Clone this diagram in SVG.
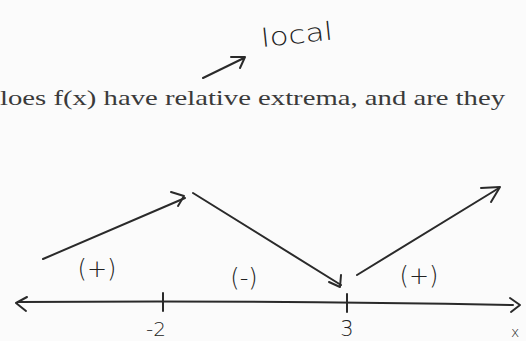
<svg xmlns="http://www.w3.org/2000/svg" width="526" height="341" viewBox="0 0 526 341">
<style>
.ln{stroke:#2a2a2a;stroke-width:2;fill:none;stroke-linecap:round;stroke-linejoin:round}
.hw{font-family:"DejaVu Sans",sans-serif;fill:#222;font-weight:300}
.pr{font-family:"Liberation Serif",serif;fill:#3a3a3a}
</style>
<rect width="526" height="341" fill="#fbfbfb"/>
<g id="question">
<text class="pr" x="0" y="105" font-size="21" textLength="505" lengthAdjust="spacingAndGlyphs">loes f(x) have relative extrema, and are they</text>
</g>
<g id="local-note">
<text class="hw" x="262" y="47" font-size="25" transform="rotate(-6 262 47)" textLength="72" lengthAdjust="spacingAndGlyphs">local</text>
<path class="ln" d="M203 78 L244 58 M231 57 L245 57 L240 68" stroke-width="1.8"/>
</g>
<g id="connectors">
<path class="ln" d="M18 302 Q260 300 513 305"/>
<path class="ln" d="M27 297 L16 303 L26 311"/>
<path class="ln" d="M510 298 L520 305 L511 312"/>
<path class="ln" d="M163 293 L163 311"/>
<path class="ln" d="M347 294 L347 312"/>
<path class="ln" d="M43 259 L185 198"/>
<path class="ln" d="M171 192 L184 196 L178 206"/>
<path class="ln" d="M193 193 L341 285"/>
<path class="ln" d="M341 275 L340 287 L329 282"/>
<path class="ln" d="M357 275 L499 188"/>
<path class="ln" d="M481 188 L500 187 L491 202"/>
</g>
<g id="labels">
<text class="hw" x="97" y="277" font-size="24" text-anchor="middle">(+)</text>
<text class="hw" x="244" y="286" font-size="24" text-anchor="middle">(-)</text>
<text class="hw" x="419" y="284" font-size="24" text-anchor="middle">(+)</text>
<text class="hw" x="156" y="336" font-size="20" text-anchor="middle">-2</text>
<text class="hw" x="347" y="336" font-size="21" text-anchor="middle">3</text>
<text class="hw" x="511" y="337" font-size="14">x</text>
</g>
</svg>
